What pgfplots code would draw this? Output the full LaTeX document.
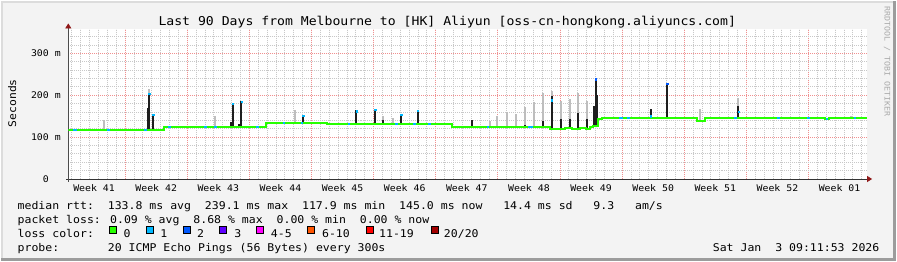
\documentclass[border=0pt]{standalone}
\usepackage{pgfplots}
\pgfplotsset{compat=1.18}
\usetikzlibrary{arrows.meta}
\usepackage{fontspec}
\setmainfont{DejaVu Sans Mono}
\newfontfamily\mono[FakeStretch=1.08]{DejaVu Sans Mono}
\definecolor{bg}{HTML}{F3F3F3}
\definecolor{bordl}{HTML}{DCDCDC}
\definecolor{bordd}{HTML}{9C9C9C}
\definecolor{lgreen}{HTML}{26FF00}
\definecolor{lblue}{HTML}{00B8FF}
\definecolor{lblue2}{HTML}{0059FF}
\definecolor{lpurple}{HTML}{5E00FF}
\definecolor{lmag}{HTML}{FF00FE}
\definecolor{lorange}{HTML}{FF5500}
\definecolor{lred}{HTML}{FF0000}
\definecolor{ldred}{HTML}{A10000}
\definecolor{majgrid}{HTML}{F09090}
\definecolor{mingrid}{HTML}{C8C8C8}
\definecolor{arrowc}{HTML}{901818}
\definecolor{smoke}{HTML}{BEBEBE}
\definecolor{dark}{HTML}{1E1E1E}
\definecolor{credit}{HTML}{AAAAAA}
\begin{document}
\begin{tikzpicture}[x=1pt,y=1pt]
\fill[bg] (0,0) rectangle (897,260);
\draw[line width=2pt, color=bordl] (1,0) -- (1,259) -- (897,259);
\draw[line width=3pt, color=bordd] (0,1.5) -- (895.5,1.5) -- (895.5,260);
\begin{axis}[
  at={(67pt,82pt)}, anchor=south west, scale only axis,
  width=801pt, height=150pt,
  xmin=0.6, xmax=90.6, ymin=0, ymax=357,
  axis background/.style={fill=white},
  axis lines=left,
  x axis line style={-{Triangle[length=5pt,width=6pt,color=arrowc]}, shorten >=-5pt, shorten <=-2pt, draw=black!80, line width=0.8pt},
  y axis line style={-{Triangle[length=5pt,width=6pt,color=arrowc]}, shorten >=-6pt, shorten <=-3pt, draw=black!70, line width=0.8pt},
  xtick={7,14,...,84}, xticklabels={},
  minor xtick={1,2,...,90},
  extra x ticks={3.5,10.5,17.5,24.5,31.5,38.5,45.5,52.5,59.5,66.5,73.5,80.5,87.5},
  extra x tick labels={Week 41,Week 42,Week 43,Week 44,Week 45,Week 46,Week 47,Week 48,Week 49,Week 50,Week 51,Week 52,Week 01},
  extra x tick style={grid=none, major tick length=0pt,
     tick label style={font=\mono\fontsize{9.15}{10}\selectfont, anchor=center, inner sep=0pt, yshift=-9.5pt}},
  ytick={0,100,200,300}, yticklabels={0,100 m,200 m,300 m},
  minor ytick={20,40,60,80,120,140,160,180,220,240,260,280,320,340},
  yticklabel style={font=\mono\fontsize{9.15}{10}\selectfont, anchor=center, inner sep=0pt, xshift=-22.5pt},
  major tick length=0pt, minor tick length=0pt,
  grid=both,
  major grid style={color=majgrid, dash pattern=on 1pt off 1pt, line width=0.8pt},
  minor grid style={color=mingrid, dash pattern=on 1pt off 1pt, line width=0.8pt},
  unbounded coords=jump,
]
% smoke (grey) spikes
\addplot[color=smoke, line width=2pt, mark=none] coordinates {
(4.64,117.5) (4.64,140) (4.64,nan)
(9.66,117.5) (9.66,215) (9.66,nan)
(17.11,124.5) (17.11,150) (17.11,nan)
(26.10,134) (26.10,165) (26.10,nan)
(36.07,131.7) (36.07,150) (36.07,nan)
(37.22,131.7) (37.22,145) (37.22,nan)
(48.12,124.5) (48.12,138) (48.12,nan)
(48.91,124.5) (48.91,150) (48.91,nan)
(50.03,124.5) (50.03,160) (50.03,nan)
(51.04,124.5) (51.04,154) (51.04,nan)
(52.06,124.5) (52.06,171) (52.06,nan)
(53.07,124.5) (53.07,184) (53.07,nan)
(54.08,124.5) (54.08,205) (54.08,nan)
(55.09,120) (55.09,210) (55.09,nan)
(56.10,120) (56.10,186) (56.10,nan)
(57.11,120) (57.11,190) (57.11,nan)
(58.04,120) (58.04,205) (58.04,nan)
(59.02,121) (59.02,186) (59.02,nan)
(71.80,139.5) (71.80,168) (71.80,nan)
(76.10,146) (76.10,193) (76.10,nan)
(88.80,146) (88.80,150) (88.80,nan)
};
% dense (black) spikes
\addplot[color=dark, line width=2pt, mark=none] coordinates {
(9.55,117.5) (9.55,169) (9.55,nan)
(9.72,117.5) (9.72,205) (9.72,nan)
(10.15,117.5) (10.15,154) (10.15,nan)
(18.91,124.5) (18.91,135) (18.91,nan)
(19.10,124.5) (19.10,182) (19.10,nan)
(19.81,124.5) (19.81,132) (19.81,nan)
(20.11,124.5) (20.11,186) (20.11,nan)
(27.08,134) (27.08,153) (27.08,nan)
(33.07,131.7) (33.07,164) (33.07,nan)
(35.20,131.7) (35.20,167) (35.20,nan)
(36.07,131.7) (36.07,140) (36.07,nan)
(38.09,131.7) (38.09,155) (38.09,nan)
(40.00,131.7) (40.00,165) (40.00,nan)
(46.10,124.5) (46.10,140) (46.10,nan)
(52.06,124.5) (52.06,130) (52.06,nan)
(54.08,124.5) (54.08,138) (54.08,nan)
(55.09,120) (55.09,198) (55.09,nan)
(56.10,120) (56.10,144) (56.10,nan)
(57.11,120) (57.11,142) (57.11,nan)
(58.04,120) (58.04,158) (58.04,nan)
(59.02,121) (59.02,142) (59.02,nan)
(59.81,123) (59.81,175) (59.81,nan)
(60.00,123) (60.00,240) (60.00,nan)
(60.18,123) (60.18,200) (60.18,nan)
(66.21,146) (66.21,168) (66.21,nan)
(68.09,146) (68.09,229) (68.09,nan)
(76.10,146) (76.10,174) (76.10,nan)
(86.90,146) (86.90,148) (86.90,nan)
};
% median rtt (loss 0)
\addplot[const plot, color=lgreen, line width=2pt, mark=none] coordinates {
(0.6,117.5) (11.38,124.5) (22.92,134) (29.8,131.7) (43.85,124.5) (54.9,120)
(56.6,121) (57.3,119.5) (58.2,122) (58.9,120.5) (59.4,123) (59.75,126)
(60.26,144) (60.7,146) (71.4,139.5) (72.3,146) (85.9,143) (86.3,146) (90.6,146)
};
% median segments with 1 lost ping
\addplot[color=lblue, line width=2pt, mark=none] coordinates {
(1.16,117.5) (1.6,117.5) (1.6,nan)
(4.98,117.5) (5.3,117.5) (5.3,nan)
(9.13,117.5) (9.45,117.5) (9.45,nan)
(11.83,124.5) (12.15,124.5) (12.15,nan)
(15.88,124.5) (16.2,124.5) (16.2,nan)
(17.0,124.5) (17.3,124.5) (17.3,nan)
(21.72,124.5) (22.05,124.5) (22.05,nan)
(24.75,134) (25.05,134) (25.05,nan)
(26.78,134) (27.05,134) (27.05,nan)
(32.06,131.7) (32.35,131.7) (32.35,nan)
(37.45,131.7) (37.75,131.7) (37.75,nan)
(39.47,131.7) (39.75,131.7) (39.75,nan)
(41.16,131.7) (41.45,131.7) (41.45,nan)
(47.79,124.5) (48.05,124.5) (48.05,nan)
(52.4,124.5) (52.96,124.5) (52.96,nan)
(62.7,146) (63.1,146) (63.1,nan)
(63.6,146) (63.9,146) (63.9,nan)
(75.6,146) (75.9,146) (75.9,nan)
(80.5,146) (80.8,146) (80.8,nan)
(83.85,146) (84.15,146) (84.15,nan)
(86.0,143) (86.25,143) (86.25,nan)
(89.1,146) (89.4,146) (89.4,nan)
};
% median at spike tops
\addplot[only marks, mark=square*, mark size=0.7pt, color=lblue] coordinates {
(9.72,204) (10.15,153) (19.10,180) (20.11,184) (27.08,151) (33.07,162)
(35.20,165) (38.09,153) (40.00,163) (55.09,188) (76.10,160) (66.21,150)
};
\addplot[only marks, mark=square*, mark size=0.7pt, color=lblue2] coordinates {
(60.00,238) (68.09,227)
};
\end{axis}
% titles
\node[font=\mono\fontsize{12.2}{14}\selectfont, anchor=base, inner sep=0pt] at (447,236)
  {Last 90 Days from Melbourne to [HK] Aliyun [oss-cn-hongkong.aliyuncs.com]};
\node[font=\mono\fontsize{10.55}{12}\selectfont, rotate=90, inner sep=0pt] at (10.8,158) {Seconds};
\node[font=\mono\fontsize{7.7}{9}\selectfont, rotate=-90, inner sep=0pt, text=credit] at (888,200) {RRDTOOL / TOBI OETIKER};
% legend text
\begin{scope}[every node/.style={font=\mono\fontsize{10.7}{12}\selectfont, anchor=base west, inner sep=0pt}]
\node at (16,51.7) {median rtt:~~133.8 ms avg~~239.1 ms max~~117.9 ms min~~145.0 ms now~~~14.4 ms sd~~~9.3~~~am/s};
\node at (16,37.7) {packet loss: 0.09 \% avg~~8.68 \% max~~0.00 \% min~~0.00 \% now};
\node at (16,23.7) {loss color:};
\node at (122.3,23.7) {0};
\node at (159.0,23.7) {1};
\node at (196.0,23.7) {2};
\node at (233.3,23.7) {3};
\node at (270.0,23.7) {4-5};
\node at (321.3,23.7) {6-10};
\node at (378.5,23.7) {11-19};
\node at (443.5,23.7) {20/20};
\node at (16,9.7) {probe:};
\node at (106.5,9.7) {20 ICMP Echo Pings (56 Bytes) every 300s};
\node[anchor=base east] at (880.5,9.7) {Sat Jan~~3 09:11:53 2026};
\end{scope}
\foreach \bx/\bc in {108.3/lgreen,145.7/lblue,182.7/lblue2,219/lpurple,256/lmag,306.7/lorange,365.7/lred,430.7/ldred}
  \filldraw[fill=\bc, draw=black, line width=0.8pt] (\bx,27) rectangle ++(7,7);
\end{tikzpicture}
\end{document}
